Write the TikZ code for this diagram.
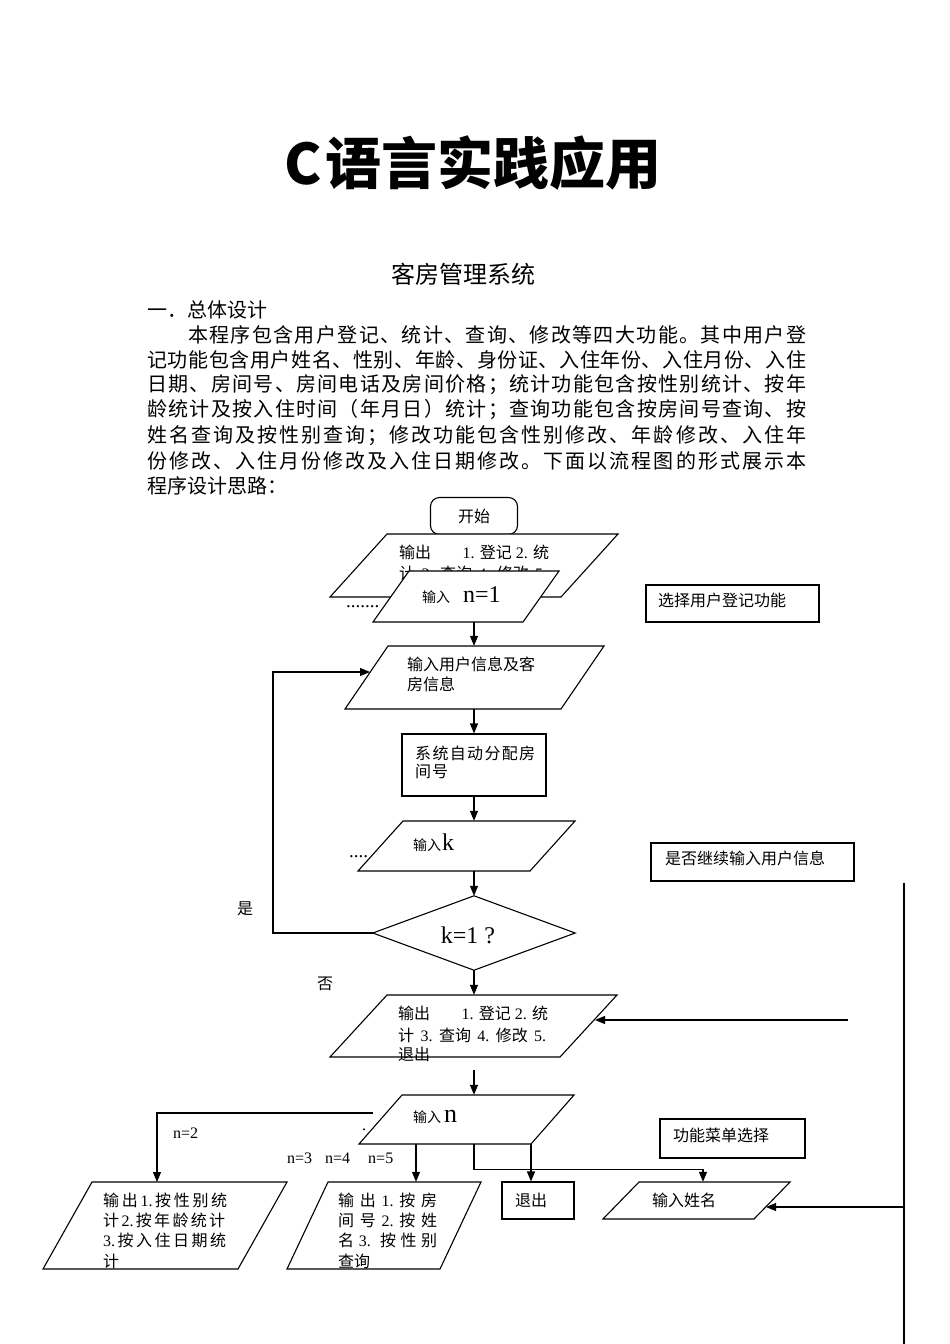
\documentclass[tikz,border=0pt]{standalone}
\usepackage{fontspec}
\setmainfont{Noto Sans CJK SC}
\newfontfamily\lat{Liberation Serif}
\usetikzlibrary{arrows.meta}
\def\sprdend{}
\def\sprd#1{\ifx#1\sprdend\else\hskip0pt plus1fil minus1pt\relax#1\expandafter\sprd\fi}
\def\sprdline#1#2\sprdend{#1\sprd#2\sprdend}
\newcommand\fs[1]{\fontsize{#1}{#1}\selectfont}
\newcommand\tn[1]{{\lat #1}}
\newcommand\pgram[6]{%
  \draw[shp] (#2,#3) -- (#4,#5) -- ({#4+#6},#5) -- ({#2+#6},#3) -- cycle;
  \pgfmathsetmacro\pgw{#4+#6-#2}\pgfmathsetmacro\pgh{#3-#5}%
  \node[inner sep=0pt, minimum width=\pgw pt, minimum height=\pgh pt] (#1) at ({(#2+#4+#6)/2},{(#3+#5)/2}) {};}
\tikzset{
  shp/.style={draw=black, line width=1.1pt, fill=white},
  ln/.style={draw=black, line width=1.1pt},
  arr/.style={ln, -{Triangle[length=10pt,width=8pt]}},
  tx/.style={inner sep=0pt, anchor=west, font=\fs{16}},
  para/.style={inner sep=0pt, anchor=west, font=\fs{20}},
}
\begin{document}
\begin{tikzpicture}[x=1pt,y=-1pt]
\fill[white] (0,0) rectangle (950,1344);
\useasboundingbox (0,0) rectangle (950,1344);

% titles
\node[inner sep=0pt, font=\fs{56}\bfseries] (title) at (473,163) {C\hspace{4pt}语言实践应用};
\node[inner sep=0pt, font=\fs{24}] (sub) at (463,274) {客房管理系统};

% paragraph
\node[para] (h1) at (147,310) {一．总体设计};
\node[para] (l1) at (188,335) {\hbox to 618pt{\sprdline 本程序包含用户登记、统计、查询、修改等四大功能。其中用户登\sprdend}};
\node[para] (l2) at (147,360) {\hbox to 659pt{\sprdline 记功能包含用户姓名、性别、年龄、身份证、入住年份、入住月份、入住\sprdend}};
\node[para] (l3) at (147,385) {\hbox to 659pt{\sprdline 日期、房间号、房间电话及房间价格；统计功能包含按性别统计、按年\sprdend}};
\node[para] (l4) at (147,410) {\hbox to 659pt{\sprdline 龄统计及按入住时间（年月日）统计；查询功能包含按房间号查询、按\sprdend}};
\node[para] (l5) at (147,436) {\hbox to 659pt{\sprdline 姓名查询及按性别查询；修改功能包含性别修改、年龄修改、入住年\sprdend}};
\node[para] (l6) at (147,461) {\hbox to 659pt{\sprdline 份修改、入住月份修改及入住日期修改。下面以流程图的形式展示本\sprdend}};
\node[para] (l7) at (147,486) {程序设计思路：};

% spine coordinates
\coordinate (sp) at (474,0);
\coordinate (xq) at (416,0);
\coordinate (xe) at (531,0);
\coordinate (xn) at (703,0);

% start
\node[shp, rounded corners=9pt, minimum width=87pt, minimum height=37pt, font=\fs{16}] (start) at (474,516) {开始};

% first output (partly covered)
\pgram{pa}{330}{597}{387}{534}{231}
\node[tx] (pa1) at (399,552) {\hbox to 150pt{输出\hfil\tn{1. }登记\tn{ 2. }统}};
\node[tx] (pa2) at (399,573) {\hbox to 148pt{计\hfil\tn{3.}\hfil 查询\hfil\tn{4.}\hfil 修改\hfil\tn{5.}}};

% input n=1
\pgram{n1}{373}{622}{409}{571}{150}
\node[tx] (n1t) at (422,595) {\fs{14}输入\hspace{13pt}\tn{\fs{24}n=1}};
\node[tx, font=\lat\fs{19}] (d1) at (346,607) {.......};

% select box
\node[shp, minimum width=173pt, minimum height=37pt] (sel) at (732.5,603.5) {};
\node[tx] (selt) at (658,600) {选择用户登记功能};

% input user info
\pgram{pu}{345}{709}{388}{646}{216}
\node[tx] (pu1) at (407,664) {输入用户信息及客};
\node[tx] (pu2) at (407,684) {房信息};
\draw[arr] (n1.south -| sp) -- (pu.north -| sp);

% system box
\node[shp, minimum width=144pt, minimum height=62pt] (sys) at (474,765) {};
\node[tx] (sys1) at (415,753) {\hbox to 120pt{\sprdline 系统自动分配房\sprdend}};
\node[tx] (sys2) at (415,772) {\hbox to 33pt{间\hfil 号}};
\draw[arr] (pu.south -| sp) -- (sys.north -| sp);

% input k
\pgram{pk}{358}{871}{403}{821}{172}
\node[tx] (pkt) at (413,843) {\fs{14}输入\hspace{1pt}\tn{\fs{24}k}};
\node[tx, font=\lat\fs{19}] (d2) at (349,857) {....};
\draw[arr] (sys.south -| sp) -- (pk.north -| sp);

% continue box
\node[shp, minimum width=203pt, minimum height=38pt] (cont) at (752.5,862) {};
\node[tx] (contt) at (665,858) {是否继续输入用户信息};

% diamond
\node[inner sep=0pt, minimum width=202pt, minimum height=74pt] (dia) at (474,933) {};
\draw[shp] (dia.north) -- (dia.east) -- (dia.south) -- (dia.west) -- cycle;
\node[inner sep=0pt, font=\lat\fs{24}] (diat) at (468,935) {k=1 ?};
\draw[arr] (pk.south -| sp) -- (dia.north);
\node[tx] (yes) at (237,909) {是};
\node[tx] (no) at (317,984) {否};

% loop back
\coordinate (lp) at (273,672);
\coordinate (puL) at (370,672);
\draw[arr] (dia.west) -| (lp) -- (puL);

% second output
\pgram{pb}{330}{1057}{387}{995}{230}
\node[tx] (pb1) at (398,1013) {\hbox to 150pt{输出\hfil\tn{1. }登记\tn{ 2. }统}};
\node[tx] (pb2) at (398,1035) {\hbox to 148pt{计\hfil\tn{3.}\hfil 查询\hfil\tn{4.}\hfil 修改\hfil\tn{5.}}};
\node[tx] (pb3) at (398,1054) {退出};
\draw[arr] (dia.south) -- (pb.north -| sp);

% back arrow from right
\coordinate (bk) at (848,1020);
\coordinate (pbR) at (595,1020);
\draw[arr] (bk) -- (pbR);

% input n
\coordinate (c1) at (474,1070);
\pgram{pn}{359}{1144}{402}{1095}{172}
\node[tx] (pnt) at (413,1117) {\fs{14}输入\hspace{3pt}\tn{\fs{26}n}};
\node[tx, font=\lat\fs{16}] (d3) at (362,1130) {.};
\draw[arr] (c1) -- (pn.north -| sp);

% menu box
\node[shp, minimum width=145pt, minimum height=39pt] (menu) at (732.5,1138.5) {};
\node[tx] (menut) at (673,1135) {功能菜单选择};

% labels
\node[tx, font=\lat\fs{16}] (lab2) at (173,1133) {n=2};
\node[tx, font=\lat\fs{16}] (lab3) at (287,1158) {n=3\hspace{13pt}n=4\hspace{18pt}n=5};

% statistics output
\pgram{ps}{43}{1269}{92}{1182}{195}
\node[tx] (ps1) at (103,1200) {\hbox to 124pt{输\hfil 出\hfil\tn{1.}\hfil 按\hfil 性\hfil 别\hfil 统}};
\node[tx] (ps2) at (103,1220) {\hbox to 122pt{计\hfil\tn{2.}\hfil 按\hfil 年\hfil 龄\hfil 统\hfil 计}};
\node[tx] (ps3) at (103,1240) {\hbox to 123pt{\tn{3.}\hfil 按\hfil 入\hfil 住\hfil 日\hfil 期\hfil 统}};
\node[tx] (ps4) at (103,1261) {计};
\coordinate (pnL) at (373,1113);
\coordinate (psT) at (157,1182);
\draw[arr] (pnL) -| (psT);

% query output
\pgram{pq}{287}{1269}{328}{1182}{153}
\node[tx] (pq1) at (338,1200) {\hbox to 99pt{输\hfil 出\hfil\tn{1.}\hfil 按\hfil 房}};
\node[tx] (pq2) at (338,1220) {\hbox to 99pt{间\hfil 号\hfil\tn{2.}\hfil 按\hfil 姓}};
\node[tx] (pq3) at (338,1240) {\hbox to 99pt{名\hfil\tn{3.}\hfil\hfil 按\hfil 性\hfil 别}};
\node[tx] (pq4) at (338,1261) {查询};
\draw[arr] (pn.south -| xq) -- (pq.north -| xq);

% exit
\node[shp, minimum width=72pt, minimum height=37pt] (ex) at (538,1200.5) {};
\node[tx] (ext) at (515,1200) {退出};
\draw[arr] (pn.south -| xe) -- (ex.north -| xe);

% input name
\pgram{nm}{603}{1219}{639}{1182}{151}
\node[tx] (nmt) at (652,1200) {输入姓名};
\draw[arr] (pn.south -| sp) -- ++(0,25) -| (nm.north -| xn);

% right line
\coordinate (rt) at (904,883);
\coordinate (rb) at (904,1344);
\coordinate (rj) at (904,1207);
\coordinate (nmR) at (766,1207);
\draw[ln] (rt) -- (rb);
\draw[arr] (rj) -- (nmR);
\end{tikzpicture}
\end{document}
